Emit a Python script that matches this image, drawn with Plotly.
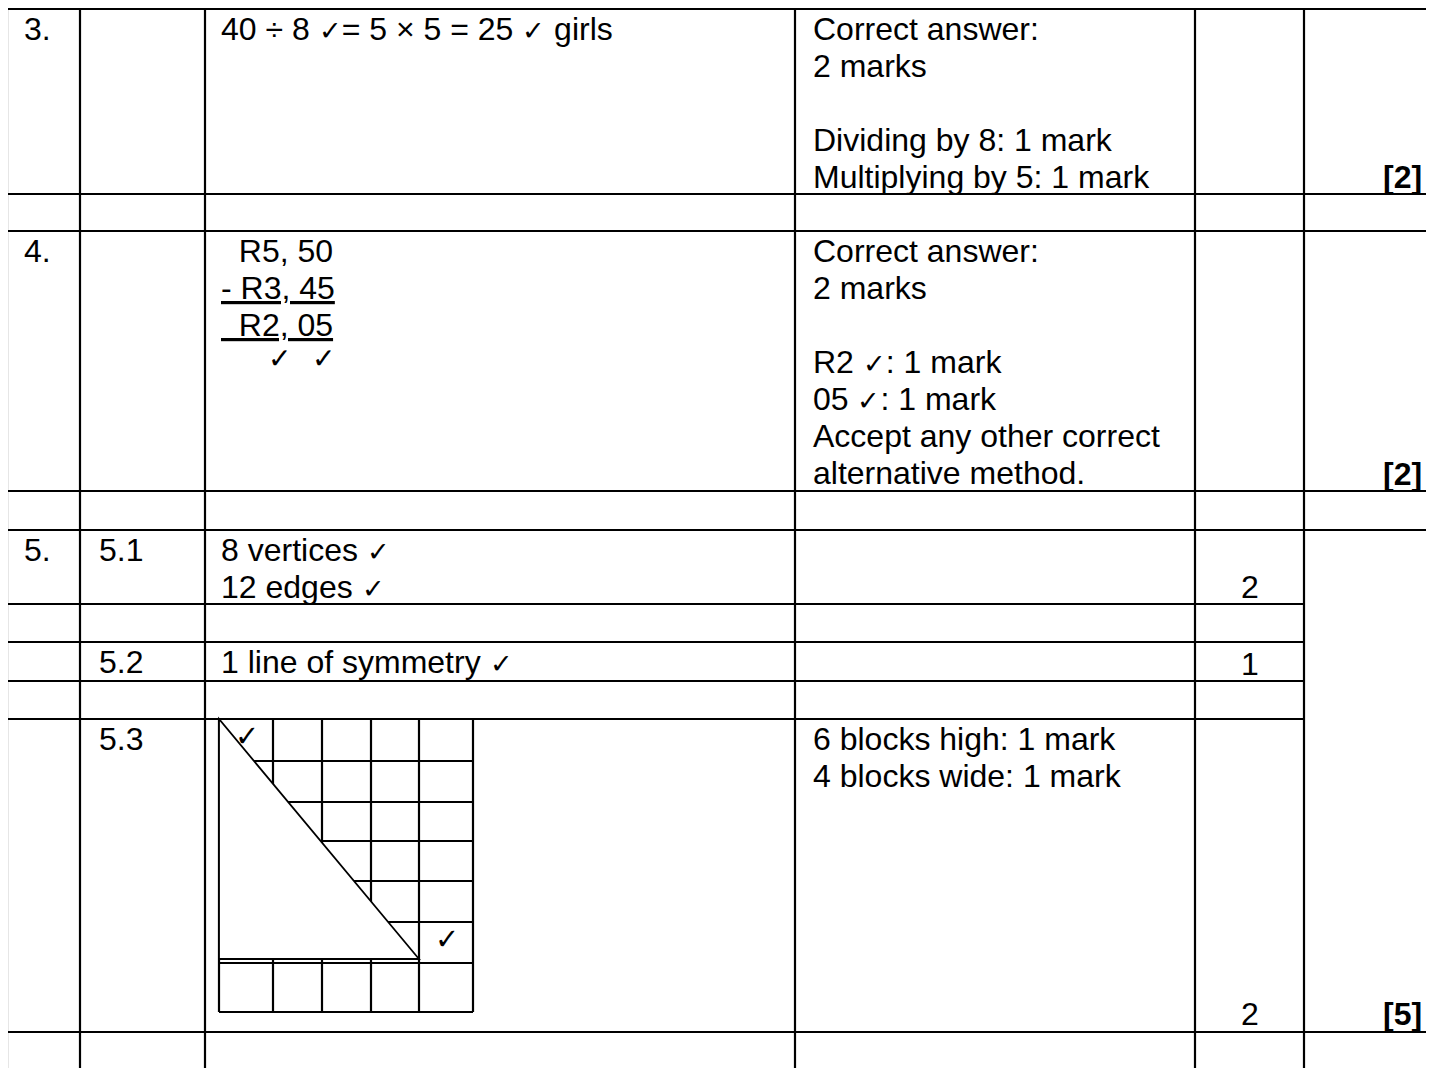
import plotly.graph_objects as go


WIDTH = 1434
HEIGHT = 1068
PAGE_MARGIN = 8  # the page body keeps its default 8px margin
INK = "#000000"
PAPER = "#FFFFFF"
FONT = "Liberation Sans, Arial, sans-serif"
TEXT_SIZE = 32
TICK_SIZE = 27
LINE_STEP = 37
FIRST_BASELINE = 31
LAST_BASELINE = 6
BASELINE_TO_MIDDLE = 11
PAD_LEFT = 15
PAD_RIGHT = 10
RULE = 2.2
NBSP = "\u00a0"
THIN = "\u2009"
TICK = "✓"


# ---- memo content, one entry per table row ----
QUESTION = ["3.", "", "4.", "", "5.", "", "", "", "", ""]
SUB_QUESTION = ["", "", "", "", "5.1", "", "5.2", "", "5.3", ""]
ANSWER = [
    ["40 ÷ 8 ✓= 5 × 5 = 25 ✓ girls"],
    [],
    [NBSP * 2 + "R5, 50", "<u>- R3, 45</u>", "<u>" + NBSP * 2 + "R2, 05</u>"],
    [],
    ["8 vertices ✓", "12 edges ✓"],
    [],
    ["1 line of symmetry ✓"],
    [],
    [],
    [],
]
ANSWER_TICKS = ["", "", NBSP * 6 + "✓" + NBSP * 2 + THIN + "✓", "", "", "", "", "", "", ""]
NOTES = [
    ["Correct answer:", "2 marks", "", "Dividing by 8: 1 mark", "Multiplying by 5: 1 mark"],
    [],
    ["Correct answer:", "2 marks", "", "R2 ✓: 1 mark", "05 ✓: 1 mark",
     "Accept any other correct", "alternative method."],
    [],
    [],
    [],
    [],
    [],
    ["6 blocks high: 1 mark", "4 blocks wide: 1 mark"],
    [],
]
MARK = ["", "", "", "", "2", "", "1", "", "2", ""]
TOTAL = ["[2]", "", "[2]", "", "", "", "", "", "[5]", ""]

# sketch for 5.3: right triangle 4 blocks wide and 6 blocks high on a 5 x 7 grid
TRIANGLE_WIDE = 4
TRIANGLE_HIGH = 6
SKETCH_TICK_CELLS = [(0, 0), (4, 5)]


# ---- layout (page pixels) ----
COL_EDGES = [7, 80, 205, 795, 1195, 1304, WIDTH]
ROW_EDGES = [9, 194, 231, 491, 530, 604, 642, 681, 719, 1032, HEIGHT]
MERGED_TOTAL_ROWS = [4, 5, 6, 7, 8]
SKETCH_X = [219, 273, 322, 371, 419, 473]
SKETCH_Y = [719, 761, 802, 841, 881, 922, 963, 1012]
SKETCH_ROW = 8


def small_ticks(text):
    return text.replace(TICK, f'<span style="font-size:{TICK_SIZE}px">{TICK}</span>')


def add_text(fig, x, baseline, text, anchor="left", size=TEXT_SIZE):
    fig.add_annotation(
        x=x,
        y=baseline - BASELINE_TO_MIDDLE * size / TEXT_SIZE,
        xref="x",
        yref="y",
        text=text,
        showarrow=False,
        xanchor=anchor,
        yanchor="middle",
        font=dict(family=FONT, size=size, color=INK),
    )


def add_rule(fig, x0, y0, x1, y1, width=RULE):
    fig.add_shape(
        type="line",
        x0=x0, y0=y0, x1=x1, y1=y1,
        xref="x", yref="y",
        line=dict(color=INK, width=width),
    )


fig = go.Figure()

# table rules
for i, y in enumerate(ROW_EDGES[:-1]):
    inside_merge = i - 1 in MERGED_TOTAL_ROWS and i in MERGED_TOTAL_ROWS
    x_end = COL_EDGES[5] if inside_merge else COL_EDGES[-1] + 10
    add_rule(fig, COL_EDGES[0], y, x_end, y)

for x in COL_EDGES[:-1]:
    add_rule(fig, x, ROW_EDGES[0], x, ROW_EDGES[-1] + 10)

# sketch grid
for x in SKETCH_X:
    add_rule(fig, x, SKETCH_Y[0], x, SKETCH_Y[-1])
for y in SKETCH_Y:
    add_rule(fig, SKETCH_X[0], y, SKETCH_X[-1], y)

# triangle over the grid
tx0 = SKETCH_X[0]
tx1 = SKETCH_X[TRIANGLE_WIDE]
ty0 = SKETCH_Y[0]
ty1 = SKETCH_Y[TRIANGLE_HIGH] - 4
fig.add_shape(
    type="path",
    path=f"M {tx0},{ty0} L {tx0},{ty1} L {tx1},{ty1} Z",
    xref="x", yref="y",
    fillcolor=PAPER,
    line=dict(color=INK, width=1.8),
)

for cx, cy in SKETCH_TICK_CELLS:
    fig.add_annotation(
        x=(SKETCH_X[cx] + SKETCH_X[cx + 1]) / 2 + 1,
        y=(SKETCH_Y[cy] + SKETCH_Y[cy + 1]) / 2 - 4,
        xref="x", yref="y",
        text=TICK,
        showarrow=False,
        xanchor="center",
        yanchor="middle",
        font=dict(family=FONT, size=29, color=INK),
    )

# cell text
for r in range(len(QUESTION)):
    top = ROW_EDGES[r]
    bottom = ROW_EDGES[r + 1]
    first = top + FIRST_BASELINE
    last = bottom - LAST_BASELINE
    if r == SKETCH_ROW:
        last = bottom - 7

    if QUESTION[r]:
        add_text(fig, COL_EDGES[0] + PAD_LEFT, first, QUESTION[r])
    if SUB_QUESTION[r]:
        add_text(fig, COL_EDGES[1] + PAD_LEFT + 2, first, SUB_QUESTION[r])

    for k, line in enumerate(ANSWER[r]):
        add_text(fig, COL_EDGES[2] + PAD_LEFT - 1, first + k * LINE_STEP, small_ticks(line))
    if ANSWER_TICKS[r]:
        k = len(ANSWER[r])
        add_text(fig, COL_EDGES[2] + PAD_LEFT - 1, first + k * LINE_STEP - 5,
                 ANSWER_TICKS[r], size=28)

    for k, line in enumerate(NOTES[r]):
        if line:
            add_text(fig, COL_EDGES[3] + PAD_LEFT + 1, first + k * LINE_STEP, small_ticks(line))

    if MARK[r]:
        add_text(fig, (COL_EDGES[4] + COL_EDGES[5]) / 2, last, MARK[r], anchor="center")
    if TOTAL[r]:
        add_text(fig, COL_EDGES[-1] - PAD_RIGHT, last, f"<b>{TOTAL[r]}</b>", anchor="right")

# the figure sits at (PAGE_MARGIN, PAGE_MARGIN) on the page, so the axes start there
fig.update_xaxes(range=[PAGE_MARGIN, WIDTH], visible=False, fixedrange=True)
fig.update_yaxes(range=[HEIGHT, PAGE_MARGIN], visible=False, fixedrange=True)
fig.update_layout(
    width=WIDTH - PAGE_MARGIN,
    height=HEIGHT - PAGE_MARGIN,
    margin=dict(l=0, r=0, t=0, b=0),
    paper_bgcolor=PAPER,
    plot_bgcolor=PAPER,
    showlegend=False,
)

fig.write_html("out.html")
